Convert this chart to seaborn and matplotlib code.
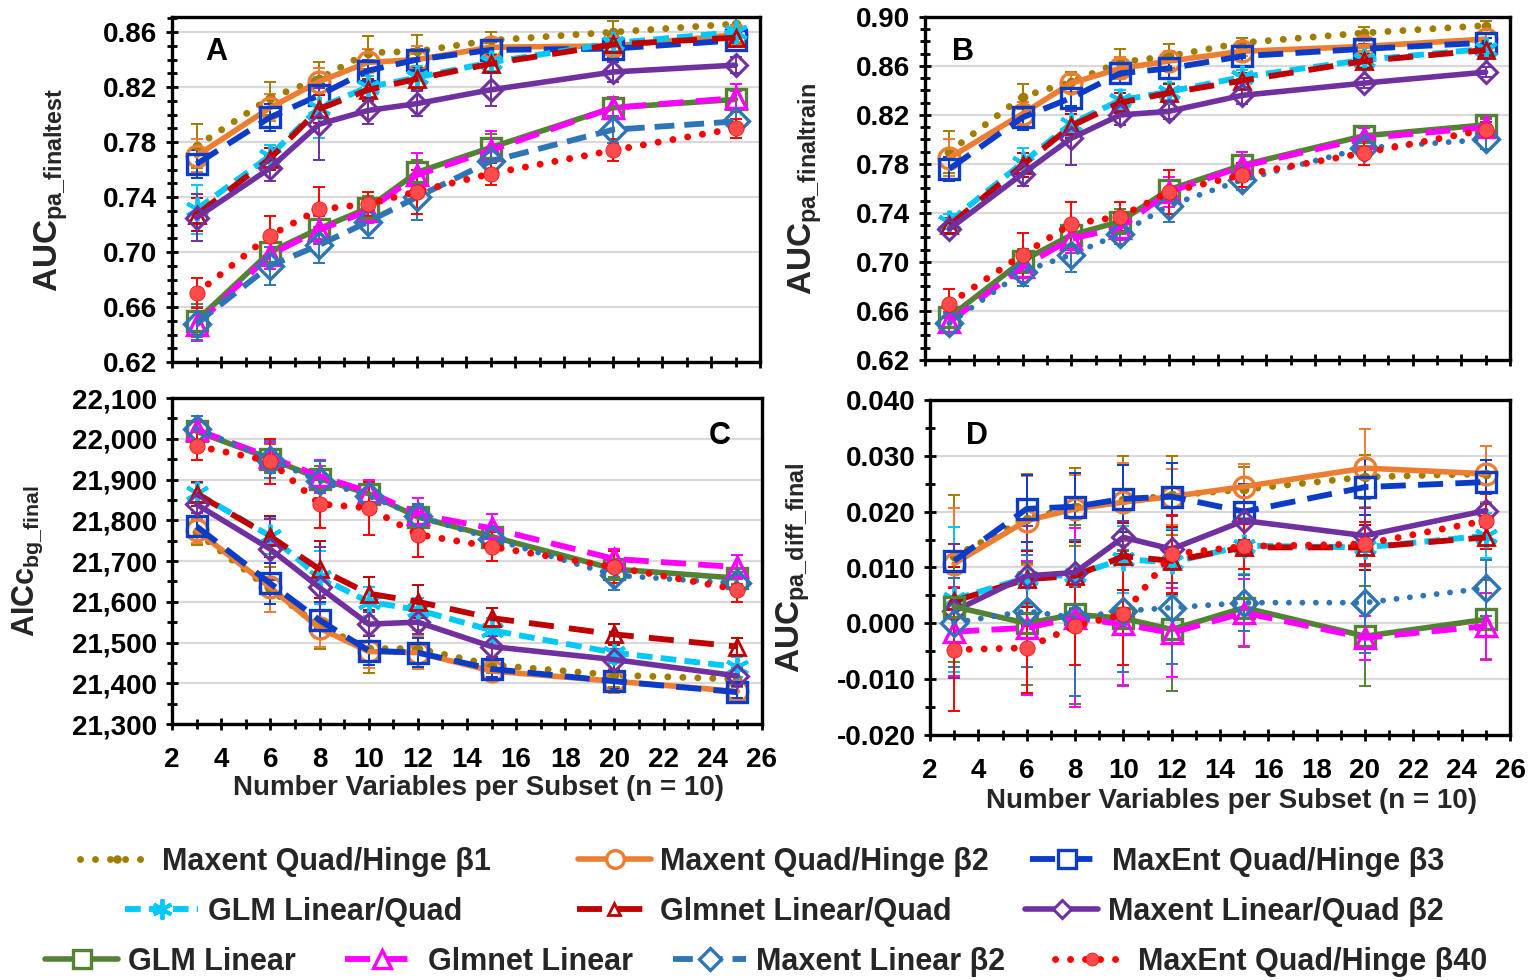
import matplotlib
matplotlib.use("Agg")
import matplotlib.pyplot as plt
import seaborn as sns
from matplotlib.lines import Line2D
from matplotlib.ticker import MultipleLocator, FuncFormatter

# ---------------- data ----------------
x_vars = [3, 6, 8, 10, 12, 15, 20, 25]
series_names = ["Maxent Quad/Hinge β1", "Maxent Quad/Hinge β2", "MaxEnt Quad/Hinge β3",
                "GLM Linear/Quad", "Glmnet Linear/Quad", "Maxent Linear/Quad β2",
                "GLM Linear", "Glmnet Linear", "Maxent Linear β2", "MaxEnt Quad/Hinge β40"]
panel_letters = ["A", "B", "C", "D"]
y_labels = [r"$\mathrm{AUC}_{\mathrm{pa\_finaltest}}$", r"$\mathrm{AUC}_{\mathrm{pa\_finaltrain}}$",
            r"$\mathrm{AICc}_{\mathrm{bg\_final}}$", r"$\mathrm{AUC}_{\mathrm{pa\_diff\_final}}$"]
x_label = "Number Variables per Subset (n = 10)"

# Panel A: AUC pa_finaltest
A_b1 = [0.777, 0.812, 0.826, 0.845, 0.846, 0.854, 0.860, 0.866]
A_b2 = [0.770, 0.805, 0.824, 0.838, 0.840, 0.849, 0.850, 0.858]
A_b3 = [0.764, 0.798, 0.814, 0.832, 0.840, 0.847, 0.848, 0.854]
A_glm_lq = [0.731, 0.770, 0.805, 0.820, 0.827, 0.838, 0.852, 0.860]
A_net_lq = [0.727, 0.768, 0.804, 0.818, 0.826, 0.837, 0.851, 0.856]
A_lq_b2 = [0.725, 0.761, 0.793, 0.803, 0.808, 0.818, 0.831, 0.836]
A_glm_l = [0.650, 0.700, 0.717, 0.732, 0.758, 0.776, 0.805, 0.811]
A_net_l = [0.647, 0.698, 0.716, 0.730, 0.756, 0.774, 0.805, 0.812]
A_lin_b2 = [0.648, 0.690, 0.705, 0.722, 0.740, 0.766, 0.789, 0.795]
A_b40 = [0.670, 0.712, 0.731, 0.735, 0.744, 0.757, 0.774, 0.790]

A_b1_err = [0.016, 0.012, 0.012, 0.012, 0.012, 0.006, 0.008, 0.005]
A_b2_err = [0.012, 0.010, 0.010, 0.010, 0.010, 0.006, 0.006, 0.005]
A_b3_err = [0.010, 0.010, 0.008, 0.008, 0.008, 0.006, 0.006, 0.005]
A_glm_lq_err = [0.018, 0.008, 0.022, 0.008, 0.008, 0.006, 0.006, 0.005]
A_net_lq_err = [0.012, 0.008, 0.010, 0.008, 0.008, 0.006, 0.006, 0.005]
A_lq_b2_err = [0.017, 0.009, 0.026, 0.010, 0.009, 0.012, 0.007, 0.006]
A_glm_l_err = [0.012, 0.010, 0.010, 0.009, 0.009, 0.010, 0.006, 0.006]
A_net_l_err = [0.012, 0.010, 0.010, 0.009, 0.016, 0.014, 0.008, 0.010]
A_lin_b2_err = [0.012, 0.014, 0.013, 0.012, 0.017, 0.010, 0.010, 0.008]
A_b40_err = [0.011, 0.014, 0.016, 0.009, 0.016, 0.008, 0.008, 0.007]

# Panel B: AUC pa_finaltrain
B_b1 = [0.790, 0.835, 0.847, 0.863, 0.868, 0.879, 0.887, 0.893]
B_b2 = [0.785, 0.821, 0.846, 0.858, 0.864, 0.872, 0.876, 0.882]
B_b3 = [0.776, 0.818, 0.834, 0.854, 0.858, 0.868, 0.874, 0.879]
B_glm_lq = [0.733, 0.781, 0.813, 0.832, 0.839, 0.851, 0.865, 0.874]
B_net_lq = [0.730, 0.779, 0.811, 0.830, 0.838, 0.848, 0.864, 0.873]
B_lq_b2 = [0.727, 0.772, 0.801, 0.820, 0.823, 0.836, 0.846, 0.855]
B_glm_l = [0.655, 0.701, 0.722, 0.733, 0.759, 0.779, 0.803, 0.812]
B_net_l = [0.651, 0.696, 0.719, 0.728, 0.757, 0.778, 0.801, 0.810]
B_lin_b2 = [0.650, 0.692, 0.706, 0.723, 0.746, 0.767, 0.793, 0.800]
B_b40 = [0.666, 0.706, 0.731, 0.737, 0.757, 0.771, 0.789, 0.808]

B_b1_err = [0.017, 0.010, 0.008, 0.011, 0.010, 0.004, 0.005, 0.004]
B_b2_err = [0.015, 0.010, 0.007, 0.009, 0.008, 0.004, 0.004, 0.004]
B_b3_err = [0.010, 0.010, 0.007, 0.008, 0.008, 0.004, 0.004, 0.004]
B_glm_lq_err = [0.006, 0.012, 0.010, 0.008, 0.007, 0.006, 0.006, 0.005]
B_net_lq_err = [0.006, 0.010, 0.010, 0.008, 0.007, 0.006, 0.006, 0.005]
B_lq_b2_err = [0.004, 0.010, 0.022, 0.008, 0.006, 0.007, 0.004, 0.004]
B_glm_l_err = [0.008, 0.010, 0.010, 0.010, 0.008, 0.008, 0.006, 0.005]
B_net_l_err = [0.008, 0.012, 0.012, 0.010, 0.012, 0.012, 0.008, 0.008]
B_lin_b2_err = [0.008, 0.012, 0.014, 0.008, 0.013, 0.008, 0.006, 0.008]
B_b40_err = [0.012, 0.018, 0.018, 0.012, 0.018, 0.010, 0.010, 0.006]

# Panel C: AICc bg_final
C_b1 = [21770, 21630, 21540, 21485, 21485, 21445, 21420, 21410]
C_b2 = [21775, 21635, 21535, 21478, 21475, 21430, 21405, 21380]
C_b3 = [21785, 21645, 21555, 21480, 21475, 21435, 21405, 21378]
C_glm_lq = [21867, 21761, 21660, 21600, 21580, 21530, 21475, 21440]
C_net_lq = [21865, 21760, 21680, 21620, 21600, 21560, 21520, 21490]
C_lq_b2 = [21839, 21729, 21635, 21545, 21550, 21490, 21458, 21418]
C_glm_l = [22018, 21951, 21902, 21865, 21808, 21760, 21680, 21658]
C_net_l = [22022, 21955, 21908, 21870, 21815, 21780, 21705, 21685]
C_lin_b2 = [22025, 21949, 21896, 21860, 21810, 21755, 21665, 21645]
C_b40 = [21982, 21945, 21840, 21830, 21765, 21735, 21685, 21630]

C_b1_err = [30, 55, 55, 60, 45, 20, 30, 20]
C_b2_err = [30, 60, 45, 40, 40, 20, 30, 20]
C_b3_err = [25, 50, 45, 35, 35, 20, 20, 15]
C_glm_lq_err = [25, 45, 65, 35, 30, 30, 25, 25]
C_net_lq_err = [30, 50, 70, 40, 40, 25, 25, 20]
C_lq_b2_err = [20, 75, 100, 30, 30, 25, 25, 20]
C_glm_l_err = [25, 35, 30, 25, 30, 25, 20, 15]
C_net_l_err = [35, 35, 40, 30, 40, 35, 25, 30]
C_lin_b2_err = [30, 45, 50, 30, 30, 30, 35, 20]
C_b40_err = [35, 55, 60, 65, 55, 35, 40, 30]

# Panel D: AUC pa_diff_final
D_b1 = [0.0120, 0.0187, 0.0208, 0.0220, 0.0229, 0.0240, 0.0262, 0.0268]
D_b2 = [0.0107, 0.0184, 0.0205, 0.0217, 0.0227, 0.0245, 0.0278, 0.0268]
D_b3 = [0.0112, 0.0205, 0.0209, 0.0223, 0.0227, 0.0200, 0.0244, 0.0253]
D_glm_lq = [0.0043, 0.0082, 0.0087, 0.0115, 0.0109, 0.0139, 0.0136, 0.0157]
D_net_lq = [0.0040, 0.0079, 0.0085, 0.0120, 0.0112, 0.0136, 0.0136, 0.0154]
D_lq_b2 = [0.0022, 0.0085, 0.0091, 0.0154, 0.0133, 0.0184, 0.0157, 0.0202]
D_glm_l = [0.0030, 0.0000, 0.0016, 0.0009, -0.0011, 0.0028, -0.0023, 0.0007]
D_net_l = [-0.0015, -0.0008, 0.0010, -0.0002, -0.0017, 0.0019, -0.0026, -0.0005]
D_lin_b2 = [0.0001, 0.0022, 0.0010, 0.0022, 0.0028, 0.0037, 0.0037, 0.0063]
D_b40 = [-0.0047, -0.0044, -0.0005, 0.0016, 0.0124, 0.0138, 0.0142, 0.0184]

D_b1_err = [0.011, 0.008, 0.007, 0.008, 0.007, 0.004, 0.004, 0.005]
D_b2_err = [0.010, 0.008, 0.006, 0.007, 0.005, 0.004, 0.007, 0.005]
D_b3_err = [0.003, 0.006, 0.006, 0.006, 0.006, 0.005, 0.005, 0.004]
D_glm_lq_err = [0.013, 0.005, 0.006, 0.006, 0.006, 0.005, 0.004, 0.004]
D_net_lq_err = [0.006, 0.005, 0.006, 0.006, 0.006, 0.005, 0.004, 0.002]
D_lq_b2_err = [0.012, 0.009, 0.008, 0.003, 0.006, 0.006, 0.005, 0.003]
D_glm_l_err = [0.010, 0.011, 0.016, 0.012, 0.011, 0.007, 0.009, 0.007]
D_net_l_err = [0.008, 0.012, 0.016, 0.011, 0.008, 0.006, 0.004, 0.006]
D_lin_b2_err = [0.008, 0.010, 0.014, 0.011, 0.010, 0.005, 0.009, 0.005]
D_b40_err = [0.011, 0.008, 0.007, 0.009, 0.007, 0.004, 0.004, 0.005]

panel_values = [
    [A_b1, A_b2, A_b3, A_glm_lq, A_net_lq, A_lq_b2, A_glm_l, A_net_l, A_lin_b2, A_b40],
    [B_b1, B_b2, B_b3, B_glm_lq, B_net_lq, B_lq_b2, B_glm_l, B_net_l, B_lin_b2, B_b40],
    [C_b1, C_b2, C_b3, C_glm_lq, C_net_lq, C_lq_b2, C_glm_l, C_net_l, C_lin_b2, C_b40],
    [D_b1, D_b2, D_b3, D_glm_lq, D_net_lq, D_lq_b2, D_glm_l, D_net_l, D_lin_b2, D_b40],
]
panel_errors = [
    [A_b1_err, A_b2_err, A_b3_err, A_glm_lq_err, A_net_lq_err, A_lq_b2_err, A_glm_l_err, A_net_l_err, A_lin_b2_err, A_b40_err],
    [B_b1_err, B_b2_err, B_b3_err, B_glm_lq_err, B_net_lq_err, B_lq_b2_err, B_glm_l_err, B_net_l_err, B_lin_b2_err, B_b40_err],
    [C_b1_err, C_b2_err, C_b3_err, C_glm_lq_err, C_net_lq_err, C_lq_b2_err, C_glm_l_err, C_net_l_err, C_lin_b2_err, C_b40_err],
    [D_b1_err, D_b2_err, D_b3_err, D_glm_lq_err, D_net_lq_err, D_lq_b2_err, D_glm_l_err, D_net_l_err, D_lin_b2_err, D_b40_err],
]

# ---------------- style ----------------
sns.set_theme(style="white")
plt.rcParams["font.family"] = ["Liberation Sans Narrow", "Liberation Sans", "DejaVu Sans"]
plt.rcParams["font.weight"] = "bold"
plt.rcParams["mathtext.fontset"] = "custom"
plt.rcParams["mathtext.rm"] = "Liberation Sans:bold"
plt.rcParams["mathtext.it"] = "Liberation Sans:bold"
plt.rcParams["mathtext.bf"] = "Liberation Sans:bold"

DOT = (0, (0.01, 2.15))
styles = [
    dict(color="#A07D00", ls=DOT, lw=5.0, cap="round", marker="o", ms=6, mfc="#A07D00", mew=1.0),
    dict(color="#ED7D31", ls="-", lw=4.0, cap="butt", marker="o", ms=15, mfc="none", mew=2.4),
    dict(color="#0A3CC8", ls=(0, (4.3, 2.1)), lw=4.2, cap="butt", marker="s", ms=15, mfc="none", mew=2.4),
    dict(color="#00C8F8", ls=(0, (2.7, 1.4)), lw=4.2, cap="butt", marker=(6, 2, 0), ms=17, mfc="none", mew=2.8),
    dict(color="#C00000", ls=(0, (4.3, 2.6)), lw=4.2, cap="butt", marker="^", ms=11, mfc="none", mew=2.0),
    dict(color="#7030A0", ls="-", lw=4.0, cap="butt", marker="D", ms=11, mfc="none", mew=2.2),
    dict(color="#548235", ls="-", lw=4.0, cap="butt", marker="s", ms=15, mfc="none", mew=2.4),
    dict(color="#FF00FF", ls=(0, (4.3, 2.1)), lw=4.2, cap="butt", marker="^", ms=15, mfc="none", mew=2.4),
    dict(color="#2E75B6", ls=(0, (3.4, 1.7)), lw=4.2, cap="butt", marker="D", ms=13, mfc="none", mew=2.4),
    dict(color="#FF0000", ls=DOT, lw=5.0, cap="round", marker="o", ms=11, mfc="#FF4B4B", mew=0.5),
]

fig = plt.figure(figsize=(15.28, 9.8), dpi=100)
W, H = 1528, 980
boxes = [(172, 17, 760, 362), (925, 17, 1510, 360), (172, 398, 762, 724), (930, 400, 1510, 735)]
axes = [fig.add_axes([l / W, 1 - b / H, (r - l) / W, (b - t) / H]) for (l, t, r, b) in boxes]

ylims = [(0.62, 0.871), (0.62, 0.90), (21300, 22100), (-0.020, 0.040)]
ymajor = [(0.04, 0.02), (0.04, 0.02), (100, 0), (0.010, 0)]
yminor = [0.01, 0.01, 50, 0.005]
yfmt = [lambda v, p: f"{v:.2f}", lambda v, p: f"{v:.2f}",
        lambda v, p: f"{v:,.0f}", lambda v, p: f"{v:.3f}".replace("\u2212", "-")]
letter_pos = [(0.075, 0.899), (0.065, 0.898), (0.929, 0.883), (0.081, 0.893)]
ylabel_x = [-0.205, -0.205, -0.244, -0.235]
ylabel_fs = [24, 24, 22, 24]

for i, ax in enumerate(axes):
    for j, (vals, errs, st) in enumerate(zip(panel_values[i], panel_errors[i], styles)):
        ls, cap = st["ls"], st["cap"]
        if j == 8 and i > 0:
            ls, cap = (0, (0.01, 2.3)), "round"
        ax.errorbar(x_vars, vals, yerr=errs, fmt="none", ecolor=st["color"],
                    elinewidth=1.4, capsize=4, capthick=1.4, zorder=1.5)
        n_before = len(ax.lines)
        sns.lineplot(x=x_vars, y=vals, ax=ax, color=st["color"],
                     marker=st["marker"], markersize=st["ms"],
                     markerfacecolor=st["mfc"], markeredgecolor=st["color"],
                     markeredgewidth=st["mew"],
                     errorbar=None, legend=False, sort=False, zorder=2 + j * 0.01)
        for ln in ax.lines[n_before:]:
            ln.set_linewidth(st["lw"])
            ln.set_linestyle(ls)
            ln.set_dash_capstyle(cap)
    ax.set_xlim(2, 26)
    ax.set_ylim(*ylims[i])
    ax.xaxis.set_major_locator(MultipleLocator(2))
    ax.xaxis.set_minor_locator(MultipleLocator(1))
    ax.yaxis.set_major_locator(MultipleLocator(ymajor[i][0], offset=ymajor[i][1]))
    ax.yaxis.set_minor_locator(MultipleLocator(yminor[i]))
    ax.yaxis.set_major_formatter(FuncFormatter(yfmt[i]))
    ax.grid(axis="y", which="major", color="#D9D9D9", linewidth=1.6)
    ax.set_axisbelow(True)
    for sp in ax.spines.values():
        sp.set_color("black")
        sp.set_linewidth(2.4)
    ax.tick_params(axis="both", which="major", direction="inout", length=9, width=2,
                   labelsize=20, colors="black", pad=6)
    ax.tick_params(axis="both", which="minor", direction="inout", length=7, width=2,
                   colors="black")
    ax.tick_params(axis="x", which="both", bottom=True, top=False)
    ax.tick_params(axis="y", which="both", left=True, right=False)
    if i < 2:
        ax.tick_params(axis="x", labelbottom=False)
    else:
        ax.tick_params(axis="x", pad=12)
        ax.set_xlabel(x_label, fontsize=20, fontweight="bold", va="center")
        ax.xaxis.set_label_coords(0.52, -0.197)
    ax.set_ylabel(y_labels[i], fontsize=ylabel_fs[i], va="center")
    ax.yaxis.set_label_coords(ylabel_x[i], 0.5)
    ax.text(letter_pos[i][0], letter_pos[i][1], panel_letters[i], transform=ax.transAxes,
            ha="center", va="center", fontsize=22, fontweight="bold",
            family=["Liberation Sans", "DejaVu Sans"], color="black")

# ---------------- legend ----------------
legend_pos = [(80, 862), (578, 862), (1030, 862),
              (125, 912), (577, 912), (1025, 912),
              (45, 962), (345, 962), (673, 962), (1055, 962)]
for j, (name, st) in enumerate(zip(series_names, styles)):
    h = Line2D([0], [0], color=st["color"], lw=st["lw"], linestyle=st["ls"], marker=st["marker"],
               markersize=st["ms"] * 0.85,
               markerfacecolor=st["mfc"] if st["mfc"] != "none" else "white",
               markeredgecolor=st["color"], markeredgewidth=st["mew"], dash_capstyle=st["cap"])
    px, py = legend_pos[j]
    fig.legend(handles=[h], labels=[name], loc="center left",
               bbox_to_anchor=(px / W, 1 - py / H), frameon=False,
               fontsize=22, handlelength=2.4, handletextpad=0.3,
               borderpad=0, borderaxespad=0)

fig.savefig("out.png", dpi=100)
